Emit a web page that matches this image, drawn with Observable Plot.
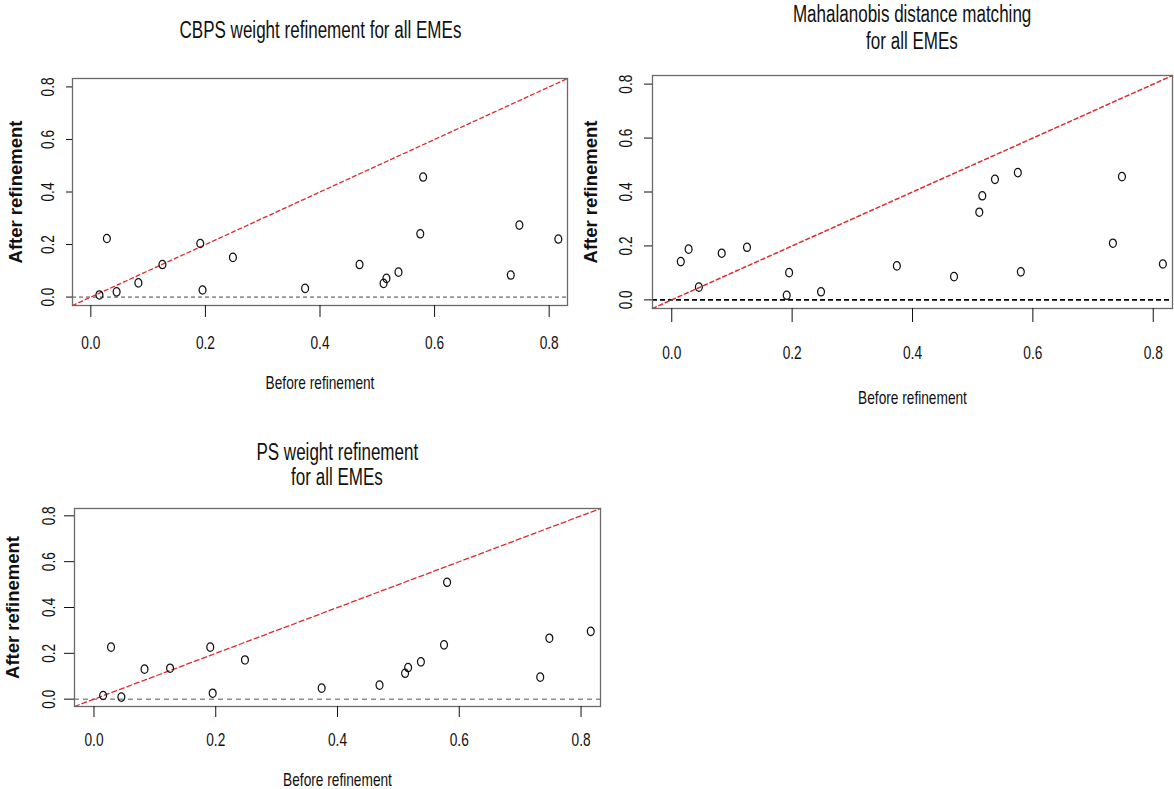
<!DOCTYPE html>
<html><head><meta charset="utf-8">
<script src="https://cdn.jsdelivr.net/npm/d3@7"></script>
<script src="https://cdn.jsdelivr.net/npm/@observablehq/plot@0.6"></script>
<style>
body{margin:0;background:#fff;}
#chart{position:relative;width:1174px;height:789px;background:#fff;overflow:hidden;font-family:"Liberation Sans",Arial,sans-serif;color:#111;}
.panel{position:absolute;}
.title{position:absolute;width:600px;text-align:center;font-size:23px;white-space:nowrap;color:#111;}
.title span{display:inline-block;transform:scaleX(0.74);}
</style></head><body><div id="chart"></div>
<script>
// ---- data ----
const before = [0.015, 0.028, 0.045, 0.083, 0.125, 0.191, 0.195, 0.248, 0.374, 0.469, 0.511, 0.516, 0.537, 0.575, 0.580, 0.733, 0.748, 0.816];
const afterCBPS = [0.008, 0.223, 0.020, 0.054, 0.124, 0.204, 0.027, 0.151, 0.033, 0.124, 0.052, 0.071, 0.095, 0.241, 0.457, 0.084, 0.274, 0.221];
const afterMahalanobis = [0.142, 0.188, 0.047, 0.173, 0.195, 0.017, 0.101, 0.030, 0.126, 0.086, 0.325, 0.386, 0.447, 0.472, 0.104, 0.210, 0.457, 0.133];
const afterPS = [0.016, 0.227, 0.009, 0.131, 0.135, 0.227, 0.026, 0.171, 0.048, 0.061, 0.113, 0.138, 0.163, 0.237, 0.510, 0.096, 0.266, 0.296];
const titleCBPS = ["CBPS weight refinement for all EMEs"];
const titleMahalanobis = ["Mahalanobis distance matching", "for all EMEs"];
const titlePS = ["PS weight refinement", "for all EMEs"];
const axisTicks = [0, 0.2, 0.4, 0.6, 0.8];
const axisLimits = [0, 0.8];
const xLabel = "Before refinement";
const yLabel = "After refinement";

// R-style 4% axis expansion
const pad = (axisLimits[1] - axisLimits[0]) * 0.04;
const domain = [axisLimits[0] - pad, axisLimits[1] + pad];

// oval "o" point symbol
const ovalSymbol = {
  draw(ctx, size) {
    const r = Math.sqrt(size / Math.PI);
    const rx = r * 0.82, ry = r, k = 0.5523;
    ctx.moveTo(rx, 0);
    ctx.bezierCurveTo(rx, k * ry, k * rx, ry, 0, ry);
    ctx.bezierCurveTo(-k * rx, ry, -rx, k * ry, -rx, 0);
    ctx.bezierCurveTo(-rx, -k * ry, -k * rx, -ry, 0, -ry);
    ctx.bezierCurveTo(k * rx, -ry, rx, -k * ry, rx, 0);
    ctx.closePath();
  }
};

const panels = [
  {title: titleCBPS, after: afterCBPS, left: 0, top: 0, width: 590, height: 420, margin: [78, 23, 115, 72],
   xTick: 12, xPad: 18.4, xLabOff: 83.6, yTick: 6, yPad: 12.4, yLabOff: 63.6,
   hDash: "4,3", hWidth: 1, hColor: "#444", rDash: "4,3", rWidth: 1.3, titleX: 320, titleTop: 16, lh: 28},
  {title: titleMahalanobis, after: afterMahalanobis, left: 580, top: 0, width: 594, height: 430, margin: [75, 2, 122, 72],
   xTick: 14, xPad: 23.4, xLabOff: 95.6, yTick: 8, yPad: 12.4, yLabOff: 68.6,
   hDash: "5,3", hWidth: 1.8, hColor: "#000", rDash: "4,3", rWidth: 1.5, titleX: 912, titleTop: 1, lh: 27},
  {title: titlePS, after: afterPS, left: 0, top: 430, width: 620, height: 359, margin: [78, 20, 83, 74],
   xTick: 11, xPad: 15, xLabOff: 79.6, yTick: 10, yPad: 9.4, yLabOff: 68.6,
   hDash: "5,4", hWidth: 1, hColor: "#555", rDash: "5,3", rWidth: 1.3, titleX: 337, titleTop: 440.4, lh: 25}
];

const chart = document.getElementById("chart");
const fmt = d3.format(".1f");

function squeeze(sel, f) {
  sel.each(function () {
    const L = this.getComputedTextLength();
    if (L > 0) {
      this.setAttribute("textLength", (L * f).toFixed(2));
      this.setAttribute("lengthAdjust", "spacingAndGlyphs");
    }
  });
}

for (const p of panels) {
  const data = before.map((b, i) => ({before: b, after: p.after[i]}));
  const svg = Plot.plot({
    width: p.width,
    height: p.height,
    marginTop: p.margin[0], marginRight: p.margin[1], marginBottom: p.margin[2], marginLeft: p.margin[3],
    style: {fontFamily: "'Liberation Sans', Arial, sans-serif", fontSize: "18.5px", color: "#111", background: "transparent", overflow: "visible"},
    x: {domain},
    y: {domain},
    marks: [
      Plot.ruleY([0], {stroke: p.hColor, strokeWidth: p.hWidth, strokeDasharray: p.hDash}),
      Plot.line(domain, {x: d => d, y: d => d, stroke: "#dd2a2a", strokeWidth: p.rWidth, strokeDasharray: p.rDash}),
      Plot.dot(data, {x: "before", y: "after", r: 4.2, symbol: ovalSymbol, stroke: "#111", strokeWidth: 1.25, fill: "none"}),
      Plot.frame({stroke: "#6a6a6a", strokeWidth: 1.3}),
      Plot.axisX({ticks: axisTicks, tickFormat: fmt, tickSize: p.xTick, tickPadding: p.xPad,
        label: xLabel, labelAnchor: "center", labelOffset: p.xLabOff, labelArrow: "none"}),
      Plot.axisY({ticks: axisTicks, tickFormat: fmt, tickSize: p.yTick, tickPadding: p.yPad, tickRotate: -90,
        label: yLabel, labelAnchor: "center", labelOffset: p.yLabOff, labelArrow: "none"})
    ]
  });
  const wrap = document.createElement("div");
  wrap.className = "panel";
  wrap.style.left = p.left + "px";
  wrap.style.top = p.top + "px";
  wrap.appendChild(svg);
  chart.appendChild(wrap);
  const s = d3.select(svg);
  squeeze(s.selectAll('g[aria-label="x-axis tick label"] text, g[aria-label="y-axis tick label"] text, g[aria-label="x-axis label"] text'), 0.74);
  s.selectAll('g[aria-label="y-axis label"] text').attr("font-weight", "bold");

  const t = document.createElement("div");
  t.className = "title";
  t.style.left = (p.titleX - 300) + "px";
  t.style.top = p.titleTop + "px";
  t.style.lineHeight = p.lh + "px";
  t.innerHTML = p.title.map(line => `<span>${line}</span>`).join("<br>");
  chart.appendChild(t);
}
</script></body></html>
